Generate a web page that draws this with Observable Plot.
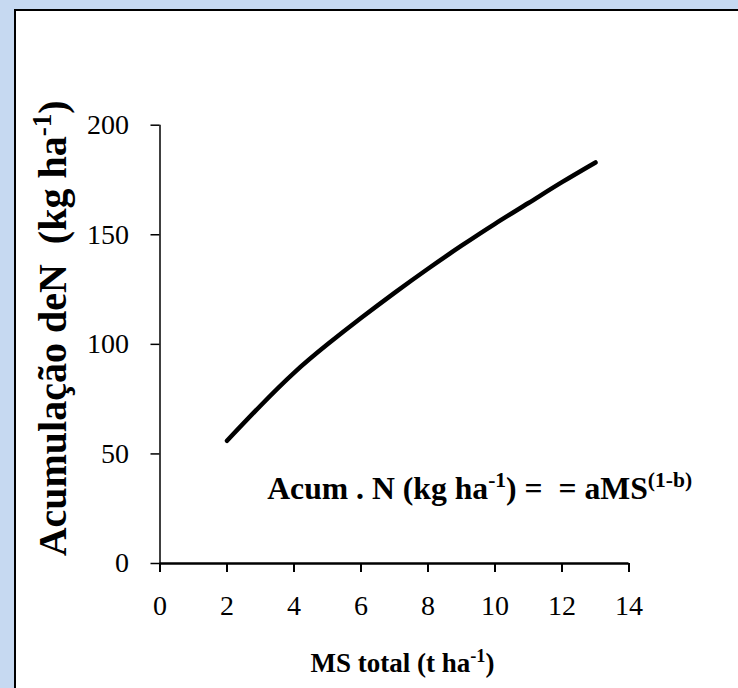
<!DOCTYPE html>
<html><head><meta charset="utf-8">
<script src="https://cdn.jsdelivr.net/npm/d3@7"></script>
<script src="https://cdn.jsdelivr.net/npm/@observablehq/plot@0.6"></script>
<style>
html,body{margin:0;padding:0;background:#c6d9f1;width:738px;height:688px;overflow:hidden}
#frame{position:absolute;left:14px;top:9px;right:0;bottom:0;background:#fff;border-top:2px solid #000;border-left:2px solid #000;}
#chart{position:absolute;left:0;top:0}
</style></head><body><div id="frame"></div><div id="chart"></div>
<script>
// Data
const msTotal = [2, 3, 4, 5, 6, 7, 8, 9, 10, 11, 12, 13];
const acumN   = [56, 72, 87, 100, 112, 123.5, 134.5, 145, 155, 164.5, 174, 183];
const xTicks = [0, 2, 4, 6, 8, 10, 12, 14];
const yTicks = [0, 50, 100, 150, 200];
const xTitleParts = [["MS total (t ha", false], ["-1", true], [")", false]];
const yTitleParts = [["Acumulação deN  (kg ha", false], ["-1", true], [")", false]];
const annotParts  = [["Acum . N (kg ha", false], ["-1", true], [") =  = aMS", false], ["(1-b)", true]];

const join = p => p.map(d => d[0]).join("");
const rows = msTotal.map((x, i) => ({x, y: acumN[i]}));
const serif = "'Liberation Serif','Times New Roman',serif";

const chart = Plot.plot({
  width: 738, height: 688,
  marginLeft: 159.5, marginRight: 109.5, marginTop: 124.7, marginBottom: 125,
  style: {background: "transparent", fontFamily: serif, color: "#000", overflow: "visible"},
  x: {domain: [0, 14]},
  y: {domain: [0, 200]},
  marks: [
    Plot.axisY(yTicks, {tickSize: 9, tickPadding: 22, fontSize: 28, strokeWidth: 1.5, label: null, tickFormat: d => String(d)}),
    Plot.axisX(xTicks, {tickSize: 9, tickPadding: 23, fontSize: 28, strokeWidth: 2, label: null, tickFormat: d => String(d)}),
    Plot.ruleX([0], {strokeWidth: 1.5}),
    Plot.ruleY([0], {strokeWidth: 2.5}),
    Plot.line(rows, {x: "x", y: "y", curve: "natural", stroke: "#000", strokeWidth: 4.5, strokeLinecap: "round"}),
    Plot.text([join(yTitleParts)], {frameAnchor: "left", textAnchor: "middle", lineAnchor: "middle", rotate: -90, dx: -107, dy: -16, fontSize: 40, fontWeight: "bold"}),
    Plot.text([join(xTitleParts)], {frameAnchor: "bottom", textAnchor: "middle", lineAnchor: "middle", dx: 8, dy: 100, fontSize: 27, fontWeight: "bold"}),
    Plot.text([join(annotParts)], {x: 3.2, y: 34, textAnchor: "start", lineAnchor: "middle", fontSize: 31.7, fontWeight: "bold"})
  ]
});

function supify(svg, parts, fs) {
  const full = join(parts);
  svg.querySelectorAll("text").forEach(t => {
    if (t.textContent !== full) return;
    t.textContent = "";
    t.setAttribute("style", "white-space:pre");
    let shift = 0;
    for (const [s, sup] of parts) {
      const ts = document.createElementNS("http://www.w3.org/2000/svg", "tspan");
      ts.textContent = s;
      const target = sup ? -0.38 * fs : 0;
      const d = target - shift;
      if (d) ts.setAttribute("dy", d);
      shift = target;
      if (sup) ts.setAttribute("font-size", 0.68 * fs);
      t.appendChild(ts);
    }
  });
}
supify(chart, xTitleParts, 27);
supify(chart, yTitleParts, 40);
supify(chart, annotParts, 31.7);
document.getElementById("chart").appendChild(chart);
</script>
</body></html>
